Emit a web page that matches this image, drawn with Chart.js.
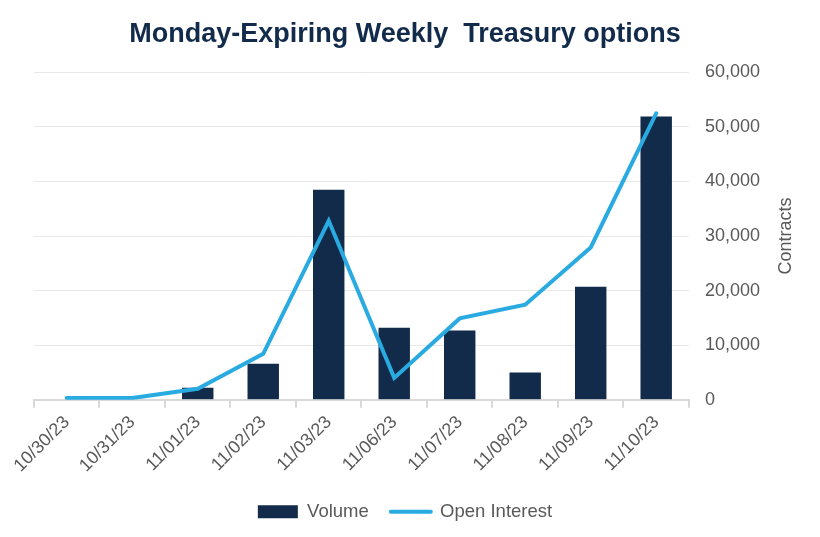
<!DOCTYPE html>
<html>
<head>
<meta charset="utf-8">
<script src="https://cdn.jsdelivr.net/npm/chart.js@4/dist/chart.umd.min.js"></script>
<style>
  html, body { margin: 0; padding: 0; background: #fff; }
  #wrap { width: 820px; height: 537px; }
</style>
</head>
<body>
<div id="wrap"><canvas id="mainChart"></canvas></div>
<script>
// Monday-expiring weekly Treasury options: volume bars + open interest line

const dates = ['10/30/23', '10/31/23', '11/01/23', '11/02/23', '11/03/23',
               '11/06/23', '11/07/23', '11/08/23', '11/09/23', '11/10/23'];
const volume = [0, 0, 2200, 6600, 38500, 13200, 12700, 5000, 20700, 51900];
const openInterest = [300, 300, 2000, 8400, 32800, 4000, 14900, 17400, 27900, 52500];
const yTicks = [0, 10000, 20000, 30000, 40000, 50000, 60000];

const navy = '#132b4b';
const blue = '#29abe2';
const grey = '#595959';
const fontFamily = '"Liberation Sans", Arial, sans-serif';

// draw the right axis title reading bottom-to-top
const axisTitle = {
  id: 'axisTitle',
  afterDraw(chart) {
    const ctx = chart.ctx;
    ctx.save();
    ctx.translate(786, (chart.chartArea.top + chart.chartArea.bottom) / 2);
    ctx.rotate(-Math.PI / 2);
    ctx.font = '18px ' + fontFamily;
    ctx.fillStyle = grey;
    ctx.textAlign = 'center';
    ctx.textBaseline = 'middle';
    ctx.fillText('Contracts', 0, 0);
    ctx.restore();
  }
};

const ctx = document.getElementById('mainChart').getContext('2d');
new Chart(ctx, {
  data: {
    labels: dates,
    datasets: [
      {
        type: 'line',
        label: 'Open Interest',
        data: openInterest,
        borderColor: blue,
        backgroundColor: blue,
        borderWidth: 4,
        borderCapStyle: 'round',
        pointRadius: 0,
        pointHoverRadius: 0,
        tension: 0,
        order: 0
      },
      {
        type: 'bar',
        label: 'Volume',
        data: volume,
        backgroundColor: navy,
        categoryPercentage: 1,
        barPercentage: 0.48,
        order: 1
      }
    ]
  },
  options: {
    responsive: true,
    maintainAspectRatio: false,
    animation: false,
    layout: { padding: { top: 6, right: 44, bottom: 6, left: 34 } },
    plugins: {
      title: {
        display: true,
        text: 'Monday-Expiring Weekly  Treasury options',
        color: navy,
        font: { family: fontFamily, size: 27, weight: 'bold' },
        padding: { top: 12, bottom: 22 }
      },
      legend: {
        position: 'bottom',
        reverse: true,
        labels: {
          usePointStyle: true,
          pointStyleWidth: 40,
          boxHeight: 13,
          padding: 22,
          color: grey,
          font: { family: fontFamily, size: 18.5 },
          generateLabels(chart) {
            const items = Chart.defaults.plugins.legend.labels.generateLabels(chart);
            items.forEach(it => {
              const ds = chart.data.datasets[it.datasetIndex];
              it.pointStyle = ds.type === 'line' ? 'line' : 'rect';
              if (ds.type === 'line') { it.lineWidth = 4; it.lineCap = 'round'; }
              else { it.lineWidth = 0; }
            });
            return items;
          }
        }
      },
      tooltip: { enabled: false }
    },
    scales: {
      x: {
        offset: true,
        grid: {
          offset: true,
          drawOnChartArea: false,
          drawTicks: true,
          tickLength: 8,
          color: '#d9d9d9',
          lineWidth: 2
        },
        border: { color: '#d9d9d9', width: 2 },
        ticks: {
          minRotation: 45,
          maxRotation: 45,
          padding: 4,
          color: grey,
          font: { family: fontFamily, size: 18 }
        }
      },
      y: {
        position: 'right',
        min: 0,
        max: 60000,
        afterBuildTicks(scale) {
          scale.ticks = yTicks.map(v => ({ value: v }));
        },
        grid: { color: '#e8e8e8', lineWidth: 1, drawTicks: false },
        border: { display: false },
        ticks: {
          padding: 16,
          color: grey,
          font: { family: fontFamily, size: 18 },
          callback: v => v.toLocaleString('en-US')
        }
      }
    }
  },
  plugins: [axisTitle]
});
</script>
</body>
</html>
